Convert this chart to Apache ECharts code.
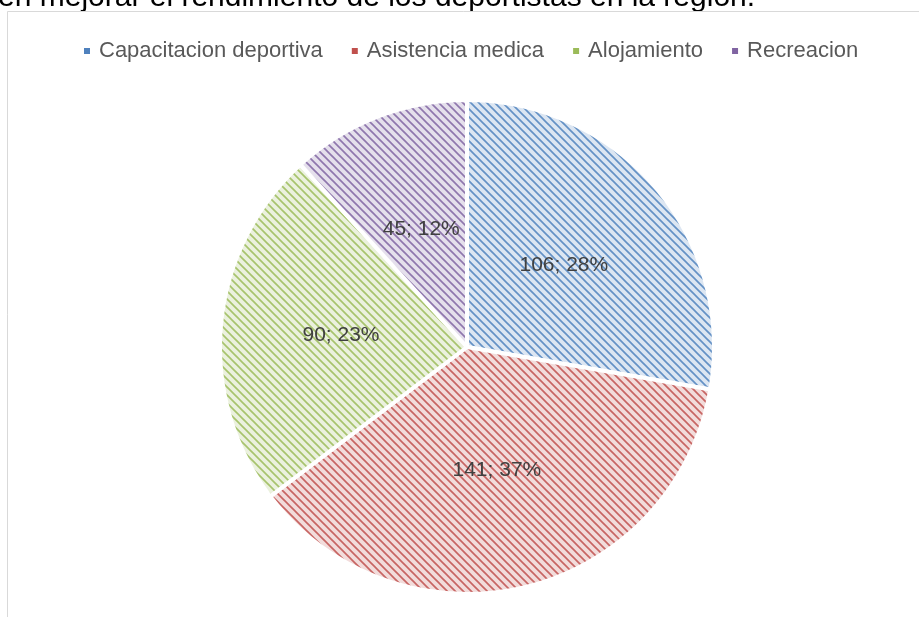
<!DOCTYPE html>
<html>
<head>
<meta charset="utf-8">
<script src="https://cdn.jsdelivr.net/npm/echarts@6/dist/echarts.min.js"></script>
<style>
  html, body { margin: 0; padding: 0; background: #fff; }
  #chart { width: 919px; height: 617px; }
</style>
</head>
<body>
<div id="chart"></div>
<script>
// data
const categories = ['Capacitacion deportiva', 'Asistencia medica', 'Alojamiento', 'Recreacion'];
const values = [106, 141, 90, 45];
const headingText = 'en mejorar el rendimiento de los deportistas en la región.';

// office-like palette: stripe colour and light background
const lineColors = ['#4F81BD', '#C0504D', '#9BBB59', '#8064A2'];
const backColors = ['#DCE6F2', '#F2DCDB', '#EBF1DE', '#E5E0EC'];

// diagonal hatch fill, like excel's wide diagonal pattern
function hatch(bg, fg) {
    const c = document.createElement('canvas');
    c.width = 8; c.height = 8;
    const ctx = c.getContext('2d');
    ctx.fillStyle = bg;
    ctx.fillRect(0, 0, 8, 8);
    ctx.strokeStyle = fg;
    ctx.globalAlpha = 0.85;
    ctx.lineWidth = 1.7;
    [-8, 0, 8].forEach(k => {
        ctx.beginPath();
        ctx.moveTo(-2, -2 + k);
        ctx.lineTo(10, 10 + k);
        ctx.stroke();
    });
    return { image: c, repeat: 'repeat' };
}

const pieData = categories.map((name, i) => ({
    name: name,
    value: values[i],
    itemStyle: { color: hatch(backColors[i], lineColors[i]) }
}));

const option = {
    animation: false,
    backgroundColor: '#fff',
    graphic: [
        {
            type: 'text',
            left: -2,
            top: -17,
            style: {
                text: headingText,
                font: '30px "Liberation Sans", Arial, sans-serif',
                fill: '#000'
            }
        },
        {
            type: 'rect',
            shape: { x: 7.5, y: 11.5, width: 1000, height: 700 },
            style: { fill: null, stroke: '#D9D9D9', lineWidth: 1 },
            silent: true
        }
    ],
    legend: {
        top: 35,
        left: 77,
        itemWidth: 8,
        itemHeight: 8,
        itemGap: 27,
        icon: 'rect',
        textStyle: {
            fontFamily: '"Liberation Sans", Arial, sans-serif',
            fontSize: 22,
            color: '#595959',
            padding: [0, 0, 0, 3]
        },
        data: categories.map((name, i) => ({ name: name, itemStyle: { color: lineColors[i] } }))
    },
    series: [
        {
            type: 'pie',
            center: [467, 347],
            radius: 247,
            startAngle: 90,
            clockwise: true,
            percentPrecision: 0,
            itemStyle: { borderColor: '#fff', borderWidth: 4 },
            label: {
                show: true,
                position: 'inside',
                formatter: '{c}; {d}%',
                fontFamily: '"Liberation Sans", Arial, sans-serif',
                fontSize: 21,
                color: '#404040'
            },
            emphasis: { disabled: true },
            data: pieData
        }
    ]
};

const myChart = echarts.init(document.getElementById('chart'));
myChart.setOption(option);
</script>
</body>
</html>
